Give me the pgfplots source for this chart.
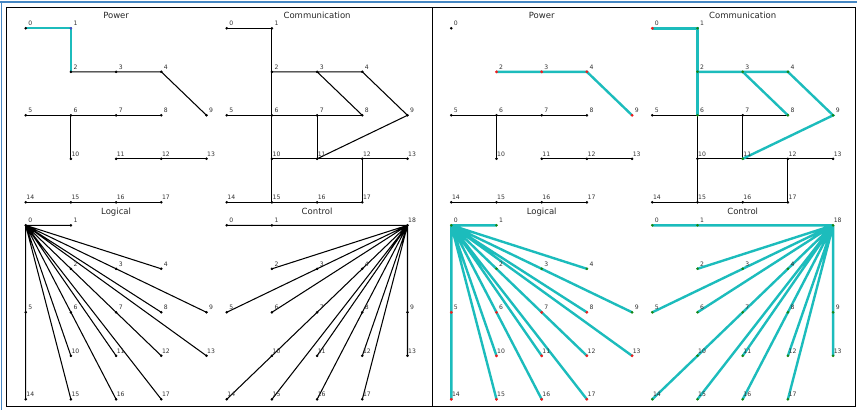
\documentclass[border=0pt]{standalone}
\usepackage{pgfplots}
\usepackage{pgfplotstable}
\pgfplotsset{compat=1.18}
\usepackage{fontspec}
\setmainfont{DejaVu Sans}
\definecolor{hl}{RGB}{28,188,188}
\definecolor{nred}{RGB}{240,30,30}
\definecolor{ngreen}{RGB}{20,135,20}
\definecolor{nblue}{RGB}{80,70,200}
\definecolor{lab}{RGB}{50,50,50}
\definecolor{frameblue}{RGB}{70,135,195}

% ---------- edge tables (column, row) ----------
\pgfplotstableread{
x y
0 2
1 2
2 2
3 2
nan nan
1 2
1 3
nan nan
2 3
3 3
4 3
nan nan
0 4
1 4
2 4
3 4
}\powerbase
\pgfplotstableread{
x y
1 1
2 1
3 1
4 2
}\powerchain
\pgfplotstableread{
x y
0 0
1 0
1 1
}\powerhead
\pgfplotstableread{
x y
0 0
1 0
1 1
1 2
}\commtrunk
\pgfplotstableread{
x y
1 1
2 1
3 1
4 2
2 3
nan nan
2 1
3 2
}\commring
\pgfplotstableread{
x y
1 2
1 3
1 4
nan nan
0 2
1 2
2 2
3 2
nan nan
2 2
2 3
nan nan
1 3
2 3
3 3
4 3
nan nan
3 3
3 4
nan nan
0 4
1 4
2 4
3 4
}\commbase
\pgfplotstableread{
x y
0 0
1 0
nan nan
0 0
1 1
nan nan
0 0
2 1
nan nan
0 0
3 1
nan nan
0 0
0 2
nan nan
0 0
1 2
nan nan
0 0
2 2
nan nan
0 0
3 2
nan nan
0 0
4 2
nan nan
0 0
1 3
nan nan
0 0
2 3
nan nan
0 0
3 3
nan nan
0 0
4 3
nan nan
0 0
0 4
nan nan
0 0
1 4
nan nan
0 0
2 4
nan nan
0 0
3 4
}\logicalstar
\pgfplotstableread{
x y
0 0
1 0
4 0
nan nan
4 0
1 1
nan nan
4 0
2 1
nan nan
4 0
3 1
nan nan
4 0
0 2
nan nan
4 0
1 2
nan nan
4 0
2 2
nan nan
4 0
3 2
nan nan
4 0
4 2
nan nan
4 0
1 3
nan nan
4 0
2 3
nan nan
4 0
3 3
nan nan
4 0
4 3
nan nan
4 0
0 4
nan nan
4 0
1 4
nan nan
4 0
2 4
nan nan
4 0
3 4
}\controlstar

% ---------- node tables ----------
\pgfplotstableread{
x y l
0 0 0
1 0 1
1 1 2
2 1 3
3 1 4
0 2 5
1 2 6
2 2 7
3 2 8
4 2 9
1 3 10
2 3 11
3 3 12
4 3 13
0 4 14
1 4 15
2 4 16
3 4 17
}\nodesall
\pgfplotstableread{
x y l
0 0 0
1 0 1
1 1 2
2 1 3
3 1 4
0 2 5
1 2 6
2 2 7
3 2 8
4 2 9
1 3 10
2 3 11
3 3 12
4 3 13
0 4 14
1 4 15
2 4 16
3 4 17
4 0 18
}\nodesctrl

\pgfplotsset{
  panel/.style={hide axis, scale only axis, width=180.8pt, height=174pt,
    xmin=0, xmax=4, ymin=0, ymax=4, y dir=reverse, enlargelimits=false,
    clip=false, anchor=north west, unbounded coords=jump},
  edge/.style={no marks, black, line width=1.05pt},
  hedge/.style={no marks, color=hl, line width=2.4pt},
  hedgethin/.style={no marks, color=hl, line width=1.8pt},
  nd/.style={only marks, mark=*, mark size=#1, nodes near coords,
    point meta=explicit symbolic,
    nodes near coords style={anchor=center, xshift=4.6pt, yshift=5pt,
      font=\fontsize{6.1}{7}\selectfont, text=lab, inner sep=0pt}},
  nd/.default=1.1pt,
}
\tikzset{ttl/.style={font=\fontsize{8.5}{10}\selectfont, text=black!85}}

\begin{document}
\begin{tikzpicture}
\useasboundingbox (0,0) rectangle (857pt,-410pt);
% window frame
\draw[frameblue, line width=1.2pt] (0pt,-2pt) -- (857pt,-2pt);
\draw[frameblue, line width=1.2pt] (1.5pt,-2pt) -- (1.5pt,-410pt);
\draw[black, line width=0.9pt] (6pt,-7pt) rectangle (855pt,-406pt);
\draw[black, line width=0.9pt] (432pt,-7pt) -- (432pt,-406pt);

% ================= LEFT: Power =================
\begin{axis}[panel, at={(25.7pt,-28.3pt)}]
\addplot[edge] table[x=x,y=y] {\powerbase};
\addplot[edge] table[x=x,y=y] {\powerchain};
\addplot[hedgethin] table[x=x,y=y] {\powerhead};
\addplot[nd, black] table[x=x,y=y,meta=l] {
x y l
0 0 0
1 1 2
2 1 3
3 1 4
0 2 5
1 2 6
2 2 7
3 2 8
4 2 9
1 3 10
2 3 11
3 3 12
4 3 13
0 4 14
1 4 15
2 4 16
3 4 17
};
\addplot[nd, nblue] table[x=x,y=y,meta=l] {
x y l
1 0 1
};
\node[ttl] at (axis cs:2,-0.3) {Power};
\end{axis}

% ================= LEFT: Communication =================
\begin{axis}[panel, at={(226.7pt,-28.3pt)}]
\addplot[edge] table[x=x,y=y] {\commtrunk};
\addplot[edge] table[x=x,y=y] {\commring};
\addplot[edge] table[x=x,y=y] {\commbase};
\addplot[nd, black] table[x=x,y=y,meta=l] {\nodesall};
\node[ttl] at (axis cs:2,-0.3) {Communication};
\end{axis}

% ================= LEFT: Logical =================
\begin{axis}[panel, at={(25.7pt,-225.3pt)}]
\addplot[edge] table[x=x,y=y] {\logicalstar};
\addplot[nd, black] table[x=x,y=y,meta=l] {\nodesall};
\node[ttl] at (axis cs:2,-0.31) {Logical};
\end{axis}

% ================= LEFT: Control =================
\begin{axis}[panel, at={(226.7pt,-225.3pt)}]
\addplot[edge] table[x=x,y=y] {\controlstar};
\addplot[nd, black] table[x=x,y=y,meta=l] {\nodesctrl};
\node[ttl] at (axis cs:2,-0.31) {Control};
\end{axis}

% ================= RIGHT: Power =================
\begin{axis}[panel, at={(451.3pt,-28.3pt)}]
\addplot[edge] table[x=x,y=y] {\powerbase};
\addplot[hedge] table[x=x,y=y] {\powerchain};
\addplot[nd, black] table[x=x,y=y,meta=l] {
x y l
0 0 0
0 2 5
1 2 6
2 2 7
3 2 8
1 3 10
2 3 11
3 3 12
4 3 13
0 4 14
1 4 15
2 4 16
3 4 17
};
\addplot[nd=1.25pt, nred] table[x=x,y=y,meta=l] {
x y l
1 1 2
2 1 3
3 1 4
4 2 9
};
\node[ttl] at (axis cs:2,-0.3) {Power};
\end{axis}

% ================= RIGHT: Communication =================
\begin{axis}[panel, at={(652.3pt,-28.3pt)}]
\addplot[edge] table[x=x,y=y] {\commbase};
\addplot[hedge] table[x=x,y=y] {\commtrunk};
\addplot[hedge] table[x=x,y=y] {\commring};
\addplot[nd, black] table[x=x,y=y,meta=l] {
x y l
0 2 5
2 2 7
1 3 10
3 3 12
4 3 13
0 4 14
1 4 15
2 4 16
3 4 17
};
\addplot[nd=1.15pt, ngreen] table[x=x,y=y,meta=l] {
x y l
1 0 1
1 1 2
2 1 3
3 1 4
1 2 6
3 2 8
4 2 9
2 3 11
};
\addplot[nd=1.25pt, nred] table[x=x,y=y,meta=l] {
x y l
0 0 0
};
\node[ttl] at (axis cs:2,-0.3) {Communication};
\end{axis}

% ================= RIGHT: Logical =================
\begin{axis}[panel, at={(451.3pt,-225.3pt)}]
\addplot[hedge] table[x=x,y=y] {\logicalstar};
\addplot[nd=1.15pt, ngreen] table[x=x,y=y,meta=l] {
x y l
0 0 0
1 0 1
1 1 2
2 1 3
3 1 4
4 2 9
};
\addplot[nd=1.25pt, nred] table[x=x,y=y,meta=l] {
x y l
0 2 5
1 2 6
2 2 7
3 2 8
1 3 10
2 3 11
3 3 12
4 3 13
0 4 14
1 4 15
2 4 16
3 4 17
};
\node[ttl] at (axis cs:2,-0.31) {Logical};
\end{axis}

% ================= RIGHT: Control =================
\begin{axis}[panel, at={(652.3pt,-225.3pt)}]
\addplot[hedge] table[x=x,y=y] {\controlstar};
\addplot[nd=1.15pt, ngreen] table[x=x,y=y,meta=l] {\nodesctrl};
\node[ttl] at (axis cs:2,-0.31) {Control};
\end{axis}
\end{tikzpicture}
\end{document}
